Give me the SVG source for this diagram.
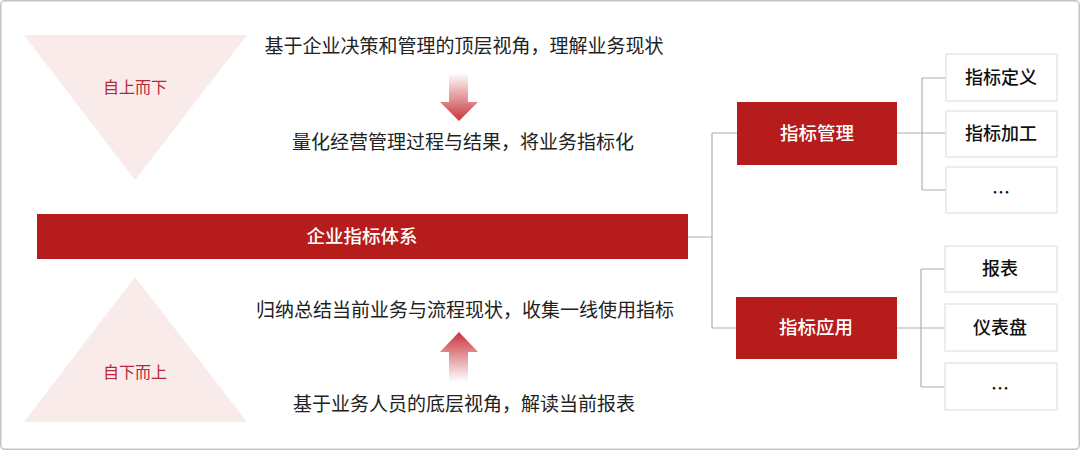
<svg xmlns="http://www.w3.org/2000/svg" width="1080" height="450" viewBox="0 0 1080 450">
<style>
.cjk{font-family:"Noto Sans CJK SC","Noto Sans",sans-serif}
.desc{font-size:19px;fill:#222;text-anchor:middle}
.tri{fill:#f9ebe9}
.tritxt{font-size:16px;fill:#b4283a;text-anchor:middle}
.red{fill:#b71c1c}
.wtxt{font-size:18.5px;fill:#fff;text-anchor:middle;font-weight:500}
.child{fill:#fff;stroke:#e2e2e2;stroke-width:1.2}
.ctxt{font-size:18px;fill:#111;text-anchor:middle;font-weight:500}
.conn{fill:none;stroke:#b0b0b0;stroke-width:1.2}
</style>
<defs>
<linearGradient id="gDown" x1="0" y1="0" x2="0" y2="1">
<stop offset="0" stop-color="#c8343a" stop-opacity="0"/>
<stop offset="1" stop-color="#c8343a" stop-opacity="1"/>
</linearGradient>
<linearGradient id="gUp" x1="0" y1="1" x2="0" y2="0">
<stop offset="0" stop-color="#c8343a" stop-opacity="0"/>
<stop offset="1" stop-color="#c8343a" stop-opacity="1"/>
</linearGradient>
</defs>
<rect x="0" y="0" width="1080" height="450" fill="#fff"/>
<rect x="0.75" y="0.75" width="1078.5" height="448.5" rx="4" fill="none" stroke="#c4c4c4" stroke-width="1.5"/>

<g id="top-down">
<polygon class="tri" points="24,35 247,35 135,180"/>
<text class="cjk tritxt" x="135" y="93">自上而下</text>
</g>
<g id="bottom-up">
<polygon class="tri" points="135,277 247,422 24,422"/>
<text class="cjk tritxt" x="135" y="378">自下而上</text>
</g>

<g id="desc-top">
<text class="cjk desc" x="464" y="53">基于企业决策和管理的顶层视角，理解业务现状</text>
<polygon fill="url(#gDown)" points="449,73 468,73 468,102 478,102 459,121 440,102 449,102"/>
<text class="cjk desc" x="463" y="149">量化经营管理过程与结果，将业务指标化</text>
</g>
<g id="desc-bottom">
<text class="cjk desc" x="465" y="317">归纳总结当前业务与流程现状，收集一线使用指标</text>
<polygon fill="url(#gUp)" points="459,332 478,352 468,352 468,382 449,382 449,352 440,352"/>
<text class="cjk desc" x="464" y="411">基于业务人员的底层视角，解读当前报表</text>
</g>

<g id="connectors">
<path class="conn" d="M688,237 H712 M712,133 V328 M712,133 H737 M712,328 H737"/>
<path class="conn" d="M897,133 H946 M922,78 V190 M922,78 H946 M922,190 H946"/>
<path class="conn" d="M897,328 H946 M921,269 V387 M921,269 H946 M921,387 H946"/>
</g>

<g id="main">
<rect class="red" x="37" y="214" width="651" height="45"/>
<text class="cjk wtxt" x="362" y="243">企业指标体系</text>
</g>
<g id="mgmt">
<rect class="red" x="737" y="102" width="160" height="63"/>
<text class="cjk wtxt" x="817" y="140">指标管理</text>
</g>
<g id="app">
<rect class="red" x="736" y="297" width="161" height="62"/>
<text class="cjk wtxt" x="816" y="334">指标应用</text>
</g>

<g id="def">
<rect class="child" x="946" y="54" width="111" height="47"/>
<text class="cjk ctxt" x="1001" y="84">指标定义</text>
</g>
<g id="proc">
<rect class="child" x="946" y="111" width="111" height="46"/>
<text class="cjk ctxt" x="1001" y="140">指标加工</text>
</g>
<g id="more1">
<rect class="child" x="946" y="167" width="111" height="46"/>
<text class="cjk ctxt" x="1001" y="199">…</text>
</g>
<g id="report">
<rect class="child" x="945" y="246" width="112" height="46"/>
<text class="cjk ctxt" x="1000" y="275">报表</text>
</g>
<g id="dash">
<rect class="child" x="945" y="304" width="112" height="47"/>
<text class="cjk ctxt" x="1000" y="334">仪表盘</text>
</g>
<g id="more2">
<rect class="child" x="945" y="363" width="112" height="47"/>
<text class="cjk ctxt" x="1000" y="395">…</text>
</g>
</svg>
